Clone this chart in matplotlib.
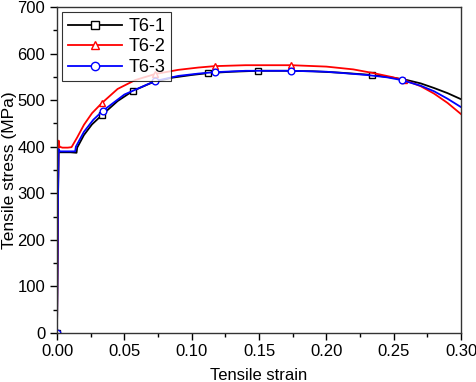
import matplotlib.pyplot as plt
from matplotlib.ticker import MultipleLocator

plt.rcParams['font.family'] = ['Liberation Sans', 'DejaVu Sans']

# T6-1 (black, squares)
strain_1 = [0, 0.0008, 0.0012, 0.002, 0.006, 0.010, 0.0145, 0.0150, 0.020, 0.026,
            0.0334, 0.045, 0.0565, 0.070, 0.085, 0.100, 0.112, 0.130, 0.149, 0.170,
            0.190, 0.210, 0.234, 0.250, 0.260, 0.270, 0.280, 0.290, 0.300]
stress_1 = [0, 300, 392, 388, 388, 388, 387, 398, 425, 448,
            468, 498, 520, 537, 548, 554, 558, 561, 563, 563,
            562, 559, 554, 548, 543, 536, 526, 515, 502]
marks_1 = [0, 10, 12, 16, 18, 22]

# T6-2 (red, triangles)
strain_2 = [0, 0.0008, 0.0012, 0.0018, 0.004, 0.008, 0.0108, 0.015, 0.020, 0.026,
            0.0334, 0.045, 0.058, 0.0728, 0.090, 0.105, 0.117, 0.140, 0.174, 0.200,
            0.220, 0.235, 0.248, 0.258, 0.270, 0.280, 0.290, 0.300]
stress_2 = [0, 320, 413, 400, 398, 398, 399, 420, 447, 472,
            494, 524, 543, 556, 565, 570, 573, 575, 575, 572,
            566, 558, 550, 543, 530, 514, 494, 470]
marks_2 = [0, 10, 13, 16, 18, 23]

# T6-3 (blue, circles)
strain_3 = [0, 0.0008, 0.0012, 0.002, 0.006, 0.010, 0.0135, 0.014, 0.020, 0.027,
            0.034, 0.050, 0.0728, 0.090, 0.105, 0.117, 0.140, 0.174, 0.200, 0.230,
            0.245, 0.256, 0.270, 0.280, 0.290, 0.300]
stress_3 = [0, 300, 395, 390, 390, 390, 390, 400, 432, 458,
            477, 512, 541, 552, 557, 560, 563, 563, 561, 554,
            549, 543, 531, 519, 503, 485]
marks_3 = [0, 10, 12, 15, 17, 21]

fig = plt.figure(figsize=(4.77, 3.82), dpi=100)
ax = fig.add_axes([0.1195, 0.1283, 0.847, 0.8534])

style = dict(lw=1.3, ms=4.8, mfc='white', mew=1.0)
ax.plot(strain_1, stress_1, color='black', marker='s', markevery=marks_1, label='T6-1', **style)
ax.plot(strain_2, stress_2, color='#ff0000', marker='^', markevery=marks_2, label='T6-2', **style)
ax.plot(strain_3, stress_3, color='#0000ff', marker='o', markevery=marks_3, label='T6-3', **style)

ax.set_xlim(0, 0.30)
ax.set_ylim(0, 700)
ax.xaxis.set_major_locator(MultipleLocator(0.05))
ax.xaxis.set_minor_locator(MultipleLocator(0.025))
ax.yaxis.set_major_locator(MultipleLocator(100))
ax.yaxis.set_minor_locator(MultipleLocator(50))
ax.xaxis.set_major_formatter(plt.FormatStrFormatter('%.2f'))
ax.tick_params(which='major', direction='out', length=5, width=1, labelsize=12)
ax.tick_params(axis='x', which='major', pad=3)
ax.tick_params(axis='y', which='major', pad=3.5)
ax.tick_params(which='minor', direction='out', length=3, width=1)
for s in ax.spines.values():
    s.set_linewidth(1.0)
    s.set_color('#333333')

ax.set_xlabel('Tensile strain', fontsize=12)
ax.set_ylabel('Tensile stress (MPa)', fontsize=12.5)
ax.xaxis.set_label_coords(0.5, -0.144, transform=ax.transAxes)
ax.xaxis.label.set_va('baseline')
ax.yaxis.set_label_coords(-0.118, 0.5, transform=ax.transAxes)
ax.yaxis.label.set_va('center')

leg = ax.legend(loc='upper left', fontsize=13, frameon=True, fancybox=False,
                edgecolor='black', handlelength=3.0, borderpad=0.3,
                labelspacing=0.2, handletextpad=0.35, borderaxespad=0.3)
leg.get_frame().set_linewidth(0.8)
for h in leg.legend_handles:
    h.set_markersize(6)

fig.savefig('out.png', dpi=100)
